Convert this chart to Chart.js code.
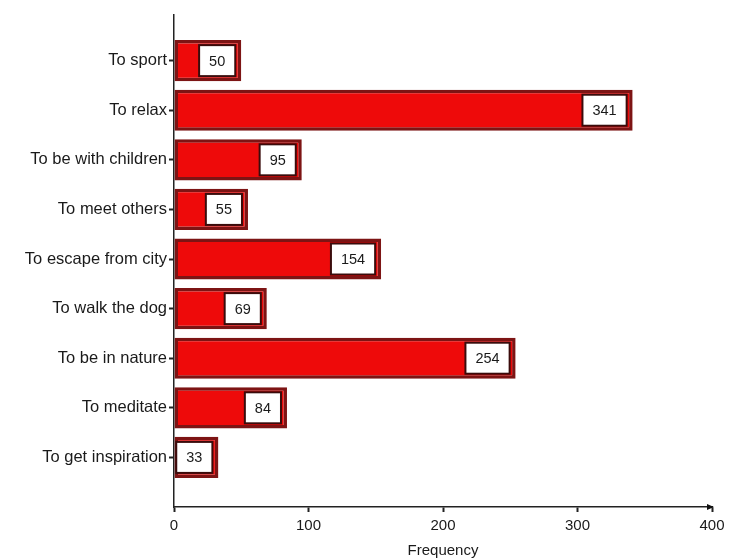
<!DOCTYPE html>
<html>
<head>
<meta charset="utf-8">
<script src="https://cdn.jsdelivr.net/npm/chart.js@4/dist/chart.umd.min.js"></script>
<style>
html,body{margin:0;padding:0;background:#fff;}
#wrap{width:733px;height:560px;position:relative;}
</style>
</head>
<body>
<div id="wrap"><canvas id="c" width="733" height="560"></canvas></div>
<script>
const categories = ["To sport","To relax","To be with children","To meet others","To escape from city","To walk the dog","To be in nature","To meditate","To get inspiration"];
const frequencies = [50, 341, 95, 55, 154, 69, 254, 84, 33];
const xTicks = [0, 100, 200, 300, 400];
const xTitle = "Frequency";

const FONT = "'Liberation Sans', Arial, Helvetica, sans-serif";

const valueBoxes = {
  id: 'valueBoxes',
  afterDatasetsDraw(chart) {
    const ctx = chart.ctx;
    const meta = chart.getDatasetMeta(0);
    ctx.save();
    ctx.font = "14.5px " + FONT;
    meta.data.forEach((bar, i) => {
      const txt = String(frequencies[i]);
      const tw = ctx.measureText(txt).width;
      const w = tw + 20, h = 31;
      const right = bar.x - 6;
      const left = right - w;
      const top = bar.y - h / 2;
      ctx.fillStyle = '#ffffff';
      ctx.fillRect(left, top, w, h);
      ctx.strokeStyle = '#3a0c0c';
      ctx.lineWidth = 2;
      ctx.strokeRect(left, top, w, h);
      ctx.fillStyle = '#1a1a1a';
      ctx.textAlign = 'center';
      ctx.textBaseline = 'middle';
      ctx.fillText(txt, left + w / 2, bar.y + 1);
    });
    const xs = chart.scales.x;
    const yb = chart.chartArea.bottom;
    const xe = xs.getPixelForValue(400);
    ctx.fillStyle = '#111';
    ctx.beginPath();
    ctx.moveTo(xe + 2, yb);
    ctx.lineTo(xe - 5, yb - 3);
    ctx.lineTo(xe - 5, yb + 3);
    ctx.closePath();
    ctx.fill();
    ctx.restore();
  }
};

new Chart(document.getElementById('c'), {
  type: 'bar',
  data: {
    datasets: [{
      data: frequencies.map((v, i) => ({ x: v, y: i })),
      backgroundColor: '#ee0a0a',
      borderColor: '#7d1414',
      borderWidth: 3.5,
      borderSkipped: false,
      barPercentage: 0.83,
      categoryPercentage: 1.0
    }]
  },
  options: {
    indexAxis: 'y',
    responsive: false,
    animation: false,
    layout: { padding: { top: 15, right: 21, left: 0, bottom: 0 } },
    plugins: { legend: { display: false }, tooltip: { enabled: false } },
    scales: {
      y: {
        type: 'linear',
        reverse: true,
        offset: false,
        min: -0.92,
        max: 9.0,
        afterBuildTicks(scale) { scale.ticks = categories.map((c, i) => ({ value: i })); },
        afterFit(scale) { scale.width = 174; },
        ticks: {
          autoSkip: false,
          padding: 2,
          color: '#1a1a1a',
          font: { family: FONT, size: 16.5 },
          callback: (v) => categories[v] !== undefined ? categories[v] : ''
        },
        grid: { offset: false, drawOnChartArea: false, tickLength: 5, tickWidth: 2, tickColor: '#222' },
        border: { color: '#222', width: 1.5 }
      },
      x: {
        type: 'linear',
        min: 0,
        max: 400,
        afterBuildTicks(scale) { scale.ticks = xTicks.map(v => ({ value: v })); },
        afterFit(scale) { scale.height = 53; },
        ticks: {
          padding: 5,
          color: '#1a1a1a',
          font: { family: FONT, size: 15 }
        },
        grid: { drawOnChartArea: false, tickLength: 5, tickWidth: 2, tickColor: '#222' },
        border: { color: '#222', width: 1.5 },
        title: {
          display: true,
          text: xTitle,
          color: '#1a1a1a',
          font: { family: FONT, size: 15 },
          padding: { top: 3, bottom: 0 }
        }
      }
    }
  },
  plugins: [valueBoxes]
});
</script>
</body>
</html>
